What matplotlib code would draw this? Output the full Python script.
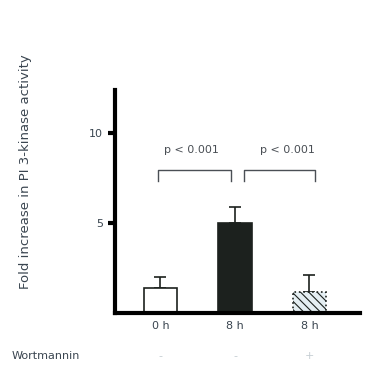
import matplotlib.pyplot as plt

# values
conditions = ["0 h", "8 h", "8 h"]
wortmannin = ["-", "-", "+"]
fold = [1.4, 5.0, 1.2]
err = [0.6, 0.9, 0.9]
pvals = ["p < 0.001", "p < 0.001"]

plt.rcParams["hatch.color"] = "#9fbfcc"
plt.rcParams["hatch.linewidth"] = 0.8

fig = plt.figure(figsize=(3.86, 3.89), dpi=100)
ax = fig.add_axes([0.298, 0.195, 0.635, 0.574])

x = range(len(fold))
faces = ["white", "#1c211e", "#e4eef2"]
hatches = [None, None, "\\\\\\\\"]
for i in x:
    ax.bar(i, fold[i], width=0.45, color=faces[i], edgecolor="#1c211e",
           linewidth=1.2, hatch=hatches[i],
           linestyle=":" if i == 2 else "-", zorder=2)
    ax.errorbar(i, fold[i], yerr=[[0], [err[i]]], fmt="none",
                ecolor="#1c211e", elinewidth=1.2, capsize=4, capthick=1.2,
                zorder=1)

# significance brackets
col = "#4a4f55"
for (x0, x1), xt, txt in zip([(-0.03, 0.95), (1.12, 2.07)], [0.41, 1.71], pvals):
    ax.plot([x0, x0, x1, x1], [7.33, 7.94, 7.94, 7.33], color=col, lw=1.0)
    ax.text(xt, 8.8, txt, ha="center", va="bottom", fontsize=8, color=col)

ax.set_xlim(-0.61, 2.68)
ax.set_ylim(0, 12.4)
ax.set_yticks([5, 10])
ax.set_xticks(list(x))
ax.set_xticklabels(conditions, fontsize=8, color="#3a4550")
ax.tick_params(axis="x", length=0, pad=6)
ax.tick_params(axis="y", length=5, width=3, labelsize=8, labelcolor="#3a4550")
for s in ["top", "right"]:
    ax.spines[s].set_visible(False)
ax.spines["left"].set_linewidth(3)
ax.spines["bottom"].set_linewidth(3)

fig.text(0.065, 0.558, "Fold increase in PI 3-kinase activity", fontsize=9.5,
         color="#3a4550", rotation=90, ha="center", va="center")

fig.text(0.03, 0.085, "Wortmannin", fontsize=8, color="#3a4550", va="center")
for i, s in enumerate(wortmannin):
    xf = ax.transData.transform((i, 0))[0] / fig.bbox.width
    fig.text(xf, 0.085, s, fontsize=8, color="#c5cdd2", ha="center",
             va="center")

fig.savefig("out.png", dpi=100)
